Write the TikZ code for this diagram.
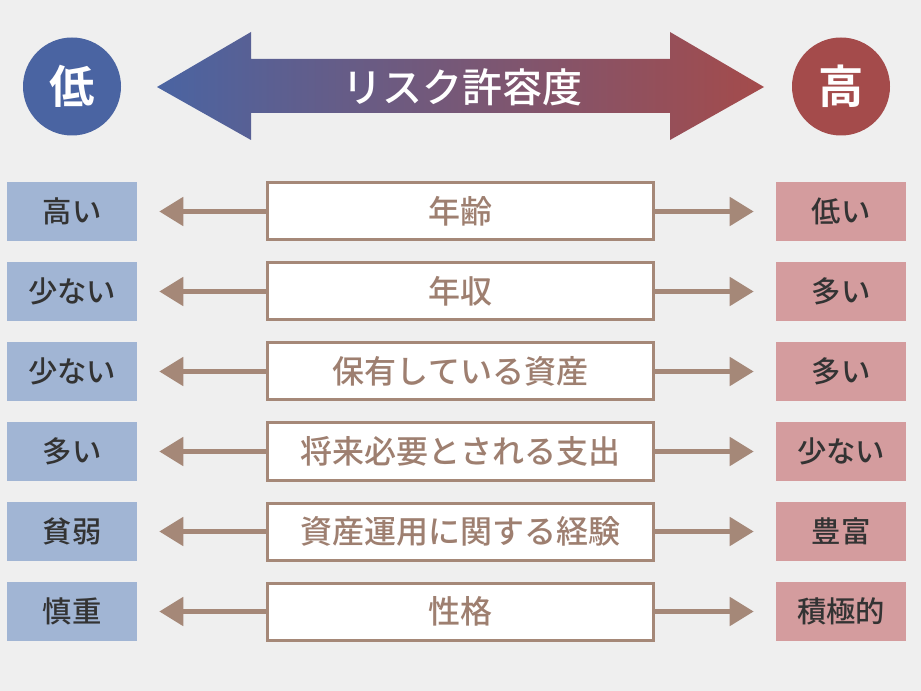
\documentclass[tikz,border=0pt]{standalone}
\usepackage{fontspec}
\newfontfamily\jp{Noto Sans CJK JP Medium}
\newfontfamily\jpb{Noto Sans CJK JP Bold}
\usetikzlibrary{arrows.meta}
\definecolor{bg}{HTML}{EFEFEF}
\definecolor{lowc}{HTML}{4A64A2}
\definecolor{highc}{HTML}{A44B4B}
\definecolor{lowbox}{HTML}{A1B5D4}
\definecolor{highbox}{HTML}{D49C9E}
\definecolor{brn}{HTML}{A58878}
\definecolor{brntext}{HTML}{9E7F70}
\definecolor{dtext}{HTML}{333333}
\tikzset{
  sidebox/.style={minimum width=97.5pt, minimum height=44.25pt, inner sep=0pt, text=dtext, font=\jp\fontsize{22pt}{24pt}\selectfont},
  lowbx/.style={sidebox, fill=lowbox},
  highbx/.style={sidebox, fill=highbox},
  midbox/.style={draw=brn, line width=2.25pt, fill=white, minimum width=289.5pt, minimum height=42.75pt, inner sep=0pt, text=brntext, font=\jp\fontsize{24pt}{26pt}\selectfont},
  conn/.style={draw=brn, line width=3.75pt, -{Triangle[length=18pt,width=21pt]}, shorten >=16.5pt},
  endcircle/.style={circle, minimum size=73.5pt, inner sep=0pt, text=white, font=\jpb\fontsize{34pt}{36pt}\selectfont}
}
\begin{document}
\begin{tikzpicture}[x=0.75pt, y=-0.75pt]
\fill[bg] (0,0) rectangle (921,691);
\useasboundingbox (0,0) rectangle (921,691);
% big gradient arrow
\shade[left color=lowc, right color=highc] (157,87) -- (251,32) -- (251,59) -- (670,59) -- (670,32) -- (764,87) -- (670,140) -- (670,113) -- (251,113) -- (251,140) -- cycle;
\node[text=white, font=\jp\fontsize{30pt}{32pt}\selectfont] (title) at (462,87) {リスク許容度};
\node[endcircle, fill=lowc] (low) at (72,86.5) {低};
\node[endcircle, fill=highc] (high) at (841,86.5) {高};
% rows
\foreach \i/\y/\l/\m/\r in {1/211.5/高い/年齢/低い, 2/291.5/少ない/年収/多い, 3/371.5/少ない/保有している資産/多い, 4/451.5/多い/将来必要とされる支出/少ない, 5/531.5/貧弱/資産運用に関する経験/豊富, 6/611.5/慎重/性格/積極的}{
  \node[lowbx] (l\i) at (72,\y) {\l};
  \node[highbx] (r\i) at (841,\y) {\r};
  \node[midbox] (m\i) at (460.5,\y) {\m};
  \draw[conn] (m\i.west) -- (l\i.east);
  \draw[conn] (m\i.east) -- (r\i.west);
}
\end{tikzpicture}
\end{document}
